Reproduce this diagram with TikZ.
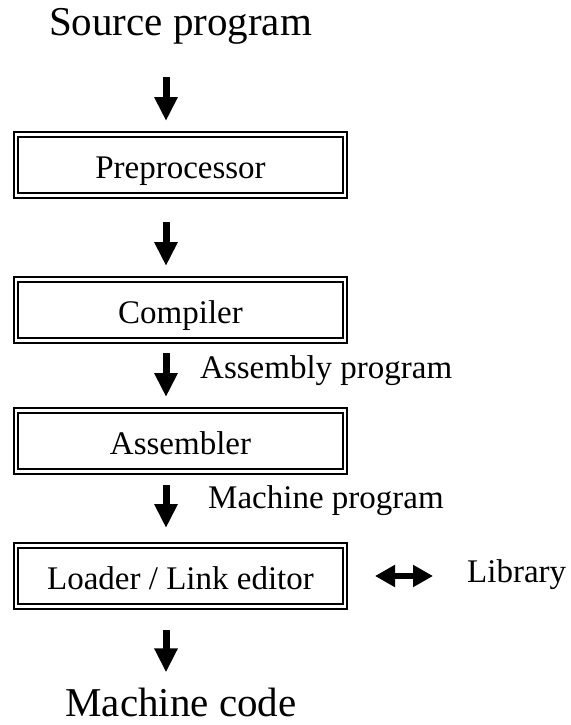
\documentclass[tikz,border=0pt]{standalone}
\usepackage{fontspec}
\setmainfont{Liberation Serif}
\usetikzlibrary{arrows.meta, positioning}

\tikzset{
	stage/.style={draw, double, line width=2.2pt, double distance=2.4pt, outer sep=0pt, inner sep=0pt,
		minimum width=329pt, minimum height=61pt, text height=30pt, text depth=3pt,
		font=\fontsize{33}{40}\selectfont},
	io/.style={inner sep=0pt, anchor=base, font=\fontsize{41}{48}\selectfont},
	note/.style={inner sep=0pt, anchor=base west, font=\fontsize{33}{40}\selectfont},
	flow/.style={line width=7pt, -{Triangle[width=22pt,length=24pt]}},
	link/.style={line width=6.5pt, {Triangle[width=21pt,length=20pt]}-{Triangle[width=21pt,length=20pt]}}
}

\begin{document}
\begin{tikzpicture}[x=1pt, y=-1pt]
	\useasboundingbox (0,0) rectangle (570,725);
	\node[io] (src) at (180.5, 36) {Source program};
	\node[stage] (pre) at (180.5, 165) {Preprocessor};
	\node[stage] (comp) at (180.5, 310) {Compiler};
	\node[stage] (asm) at (180.5, 441) {Assembler};
	\node[stage] (load) at (180.5, 576) {Loader / Link editor};
	\node[io] (out) at (181, 716) {Machine code};
	\node[note] (asmprog) at (200, 378) {Assembly program};
	\node[note] (machprog) at (208, 508) {Machine program};
	\node[note] (lib) at (467, 582) {Library};
	% the flow down the chain
	\draw[flow, shorten <=32pt, shorten >=13.5pt] ([xshift=-14.5pt]src.south) -- ([xshift=-14.5pt]pre.north);
	\draw[flow, shorten <=26.5pt, shorten >=13.5pt] ([xshift=-14.5pt]pre.south) -- ([xshift=-14.5pt]comp.north);
	\draw[flow, shorten <=12.5pt, shorten >=13.5pt] ([xshift=-14.5pt]comp.south) -- ([xshift=-14.5pt]asm.north);
	\draw[flow, shorten <=13.5pt, shorten >=17.5pt] ([xshift=-14.5pt]asm.south) -- ([xshift=-14.5pt]load.north);
	\draw[flow, shorten <=23.5pt, shorten >=15pt] ([xshift=-14.5pt]load.south) -- ([xshift=-15pt]out.north);
	\draw[link, shorten <=30pt, shorten >=34pt] (load.east) -- (lib.west |- load.east);
\end{tikzpicture}
\end{document}
